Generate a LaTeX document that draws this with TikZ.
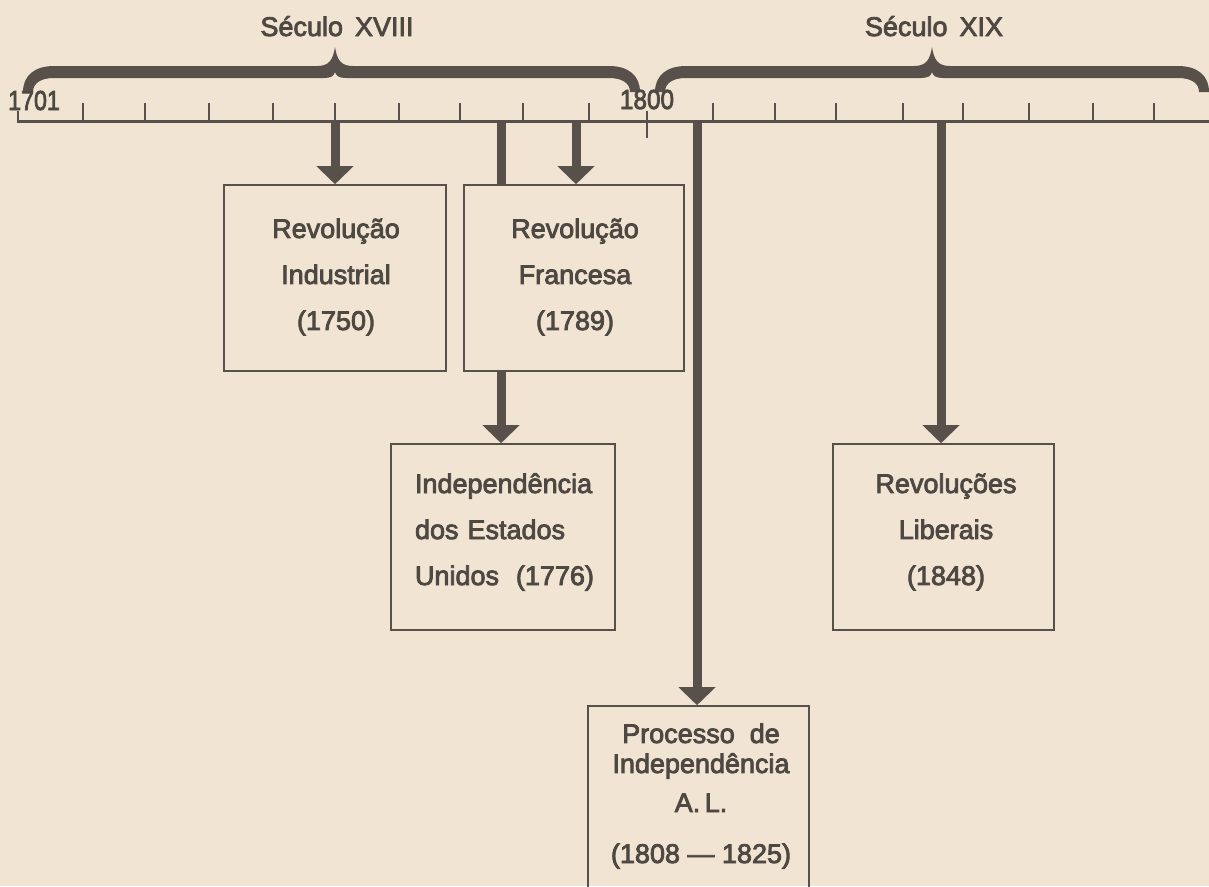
\documentclass[tikz,border=0pt]{standalone}
\usepackage{fontspec}
\setmainfont{Liberation Sans}
\newfontfamily\inkfont{Liberation Sans}[FakeBold=3, Ligatures=TeX]
\usetikzlibrary{arrows.meta}

\definecolor{paper}{RGB}{242,228,211}
\definecolor{ink}{RGB}{88,80,74}
\definecolor{txtink}{RGB}{78,72,67}

% curly brace over a century: left end, peak, right end (x positions)
\newcommand{\centurybrace}[3]{%
  \fill[ink] ({#1-5},92) .. controls ({#1-5},76) and ({#1+6},66) .. ({#1+26},66)
    -- ({#2-18},66) .. controls ({#2-6},66) and ({#2-2},60) .. (#2,47)
    .. controls ({#2+2},60) and ({#2+6},66) .. ({#2+18},66)
    -- ({#3-26},66) .. controls ({#3-6},66) and ({#3+5},76) .. ({#3+5},92)
    -- ({#3-5},92) .. controls ({#3-5},83) and ({#3-13},78) .. ({#3-26},78)
    -- ({#2+11},78) .. controls ({#2+4},78) and ({#2+1},76) .. (#2,72)
    .. controls ({#2-1},76) and ({#2-4},78) .. ({#2-11},78)
    -- ({#1+26},78) .. controls ({#1+13},78) and ({#1+5},83) .. ({#1+5},92) -- cycle;}

\tikzset{
  axisline/.style={draw=ink, line width=3pt},
  ticklin/.style={draw=ink, line width=1.4pt},
  eventbox/.style={draw=ink, line width=1.6pt, rectangle, inner sep=0pt},
  boxtext/.style={text=txtink, font=\inkfont\fontsize{27}{46}\selectfont, inner sep=0pt, align=center},
  lbl/.style={text=txtink, font=\inkfont\fontsize{27}{32}\selectfont, inner sep=0pt},
  shaft/.style={draw=ink, line width=9pt},
  arr/.style={draw=ink, line width=9pt, -{Triangle[width=36pt,length=18pt]}},
}

\begin{document}
\begin{tikzpicture}[x=1pt,y=-1pt]
  \clip (0,0) rectangle (1209,886);
  \fill[paper] (0,0) rectangle (1209,886);

  % century labels and braces
  \node[lbl, anchor=base] (s18) at (337,36) {Século\ \,XVIII};
  \node[lbl, anchor=base] (s19) at (934,36) {Século\ \,XIX};
  \centurybrace{28}{335}{635}
  \centurybrace{660}{932}{1204}

  % time axis
  \draw[axisline] (17,121) -- (1212,121);
  \draw[ticklin] (18,111) -- (18,121);
  \foreach \x in {83,145,209,273,335,399,460,523,589,713,775,836,903,963,1029,1093,1154}
    \draw[ticklin] (\x,103) -- (\x,121);
  \draw[ticklin] (647,111) -- (647,138);
  \node[lbl, anchor=base west] (y1701) at (8,110) {\scalebox{0.86}[1.02]{1701}};
  \node[lbl, anchor=base] (y1800) at (647,109) {\scalebox{0.9}[1.02]{1800}};

  % points on the axis
  \coordinate (t1750) at (335,121);
  \coordinate (t1776) at (501,121);
  \coordinate (t1789) at (576,121);
  \coordinate (t1808) at (697,121);
  \coordinate (t1848) at (941,121);

  % event boxes
  \node[eventbox, minimum width=222pt, minimum height=186pt] (indus) at (335,278) {};
  \node[eventbox, minimum width=220pt, minimum height=186pt] (fran) at (574,278) {};
  \node[eventbox, minimum width=224pt, minimum height=186pt] (indep) at (503,537) {};
  \node[eventbox, minimum width=221pt, minimum height=186pt] (lib) at (943.5,537) {};
  \node[eventbox, minimum width=221pt, minimum height=200pt] (proc) at (698.5,806) {};

  % box texts
  \node[boxtext] (indus-t) at (336,277) {Revolução\\Industrial\\(1750)};
  \node[boxtext] (fran-t) at (575,277) {Revolução\\Francesa\\(1789)};
  \node[boxtext, align=left, text width=179pt] (indep-t) at (504.5,532)
    {Independência\\dos Estados\\Unidos\hfill(1776)};
  \node[boxtext] (lib-t) at (946,532) {Revoluções\\Liberais\\(1848)};
  \node[boxtext, font=\inkfont\fontsize{27}{30}\selectfont] (proc-t) at (701,796)
    {Processo \ de\\Independência\\[9pt]A.\,L.\\[21pt](1808 — 1825)};

  % connectors
  \draw[arr] (t1750) -- (t1750 |- indus.north);
  \draw[arr] (t1789) -- (t1789 |- fran.north);
  \draw[shaft] (t1776) -- (t1776 |- fran.north);
  \draw[arr] (t1776 |- fran.south) -- (t1776 |- indep.north);
  \draw[arr] (t1808) -- (t1808 |- proc.north);
  \draw[arr] (t1848) -- (t1848 |- lib.north);
\end{tikzpicture}
\end{document}
